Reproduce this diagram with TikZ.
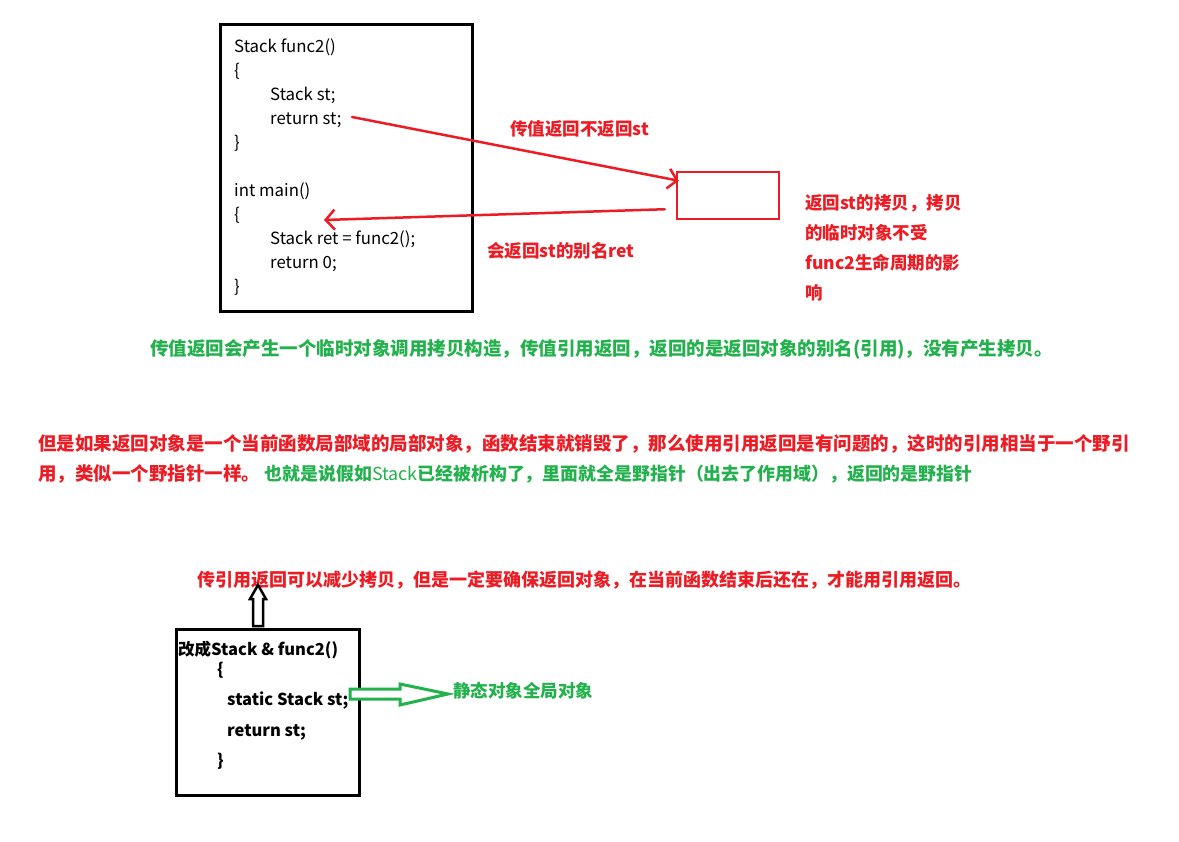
\documentclass[tikz,border=0pt]{standalone}
\usepackage{fontspec}
\setmainfont{Noto Sans CJK SC}
\usetikzlibrary{arrows.meta,calc}
\definecolor{pred}{RGB}{237,28,36}
\definecolor{pgreen}{RGB}{34,177,76}
\tikzset{
  code/.style={anchor=base west, inner sep=0pt, font=\fontsize{16.8}{18}\selectfont, text=black},
  bcode/.style={anchor=base west, inner sep=0pt, font=\fontsize{16.5}{18}\selectfont\bfseries, text=black},
  rlab/.style={anchor=base west, inner sep=0pt, font=\fontsize{17.5}{20}\selectfont\bfseries, text=pred},
  glab/.style={anchor=base west, inner sep=0pt, font=\fontsize{17.5}{20}\selectfont\bfseries, text=pgreen},
  para/.style={anchor=base west, inner sep=0pt, font=\fontsize{18.5}{20}\selectfont\bfseries},
  frame/.style={draw=black, line width=3pt},
  redbox/.style={draw=pred, line width=2.5pt, minimum width=102pt, minimum height=47pt, inner sep=0pt},
  redarrow/.style={draw=pred, line width=2.5pt, line cap=round, -{Straight Barb[length=9pt,width=20pt,line width=2.5pt]}},
  hollow/.style={line width=2.5pt, line join=miter, fill=white},
}
\begin{document}
\begin{tikzpicture}[x=1pt,y=-1pt]
\useasboundingbox (0,0) rectangle (1179,842);
\fill[white] (0,0) rectangle (1179,842);

% top code box
\draw[frame] (220,25) rectangle (472,312);
\node[code] (c1) at (234,53) {Stack func2()};
\node[code] (c2) at (234,77) {\{};
\node[code] (c3) at (270,101) {Stack st;};
\node[code] (c4) at (270,125) {return st;};
\node[code] (c5) at (234,149) {\}};
\node[code] (c6) at (234,197) {int main()};
\node[code] (c7) at (234,221) {\{};
\node[code] (c8) at (270,245) {Stack ret = func2();};
\node[code] (c9) at (270,269) {return 0;};
\node[code] (c10) at (234,293) {\}};

% red temp box
\node[redbox] (tmp) at (728,195.5) {};
\coordinate (a1s) at (352,117);
\coordinate (a1e) at ($(tmp.north west)+(3,10)$);
\coordinate (a2s) at ($(tmp.south west)+(-11,-11)$);
\coordinate (a2e) at (324,220);
\draw[redarrow] (a1s) -- (a1e);
\draw[redarrow] (a2s) -- (a2e);

\node[rlab] (l1) at (510,136) {传值返回不返回st};
\node[rlab] (l2) at (487,258) {会返回st的别名ret};
\node[rlab] (r1) at (805,210) {返回st的拷贝，拷贝};
\node[rlab] (r2) at (805,240) {的临时对象不受};
\node[rlab] (r3) at (805,270) {func2生命周期的影};
\node[rlab] (r4) at (805,300) {响};

% middle paragraphs
\node[para, text=pgreen] (g1) at (150,356) {传值返回会产生一个临时对象调用拷贝构造，传值引用返回，返回的是返回对象的别名(引用)，没有产生拷贝。};
\node[para, text=pred] (p1) at (38,450) {但是如果返回对象是一个当前函数局部域的局部对象，函数结束就销毁了，那么使用引用返回是有问题的，这时的引用相当于一个野引};
\node[para, text=pred] (p2) at (38,480) {用，类似一个野指针一样。};
\node[para, text=pgreen, anchor=base west, font=\fontsize{17.9}{20}\selectfont\bfseries] (p3) at ($(p2.base east)+(4,0)$) {也就是说假如{\mdseries Stack}已经被析构了，里面就全是野指针（出去了作用域），返回的是野指针};

\node[para, text=pred, font=\fontsize{18}{20}\selectfont\bfseries] (p4) at (197,586) {传引用返回可以减少拷贝，但是一定要确保返回对象，在当前函数结束后还在，才能用引用返回。};

% bottom code box
\draw[frame] (176,629) rectangle (359,795);
\node[bcode] (b1) at (178,655) {改成Stack \& func2()};
\node[bcode] (b2) at (217,675) {\{};
\node[bcode] (b3) at (227,705) {static Stack st;};
\node[bcode] (b4) at (227,736) {return st;};
\node[bcode] (b5) at (217,766) {\}};

% hollow black up arrow
\coordinate (ua) at (258,626);
\draw[hollow, draw=black] (ua) ++(-5,0) -- ++(0,-27) -- ++(-3,0) -- ++(8,-14) -- ++(8,14) -- ++(-3,0) -- ++(0,27) -- cycle;

% hollow green right arrow
\coordinate (ga) at (350,694);
\draw[hollow, draw=pgreen, line width=3pt] (ga) ++(0,-5) -- ++(50,0) -- ++(0,-5) -- ++(48,10) -- ++(-48,11) -- ++(0,-6) -- ++(-50,0) -- cycle;
\node[glab] (s1) at (453,697) {静态对象全局对象};
\end{tikzpicture}
\end{document}
